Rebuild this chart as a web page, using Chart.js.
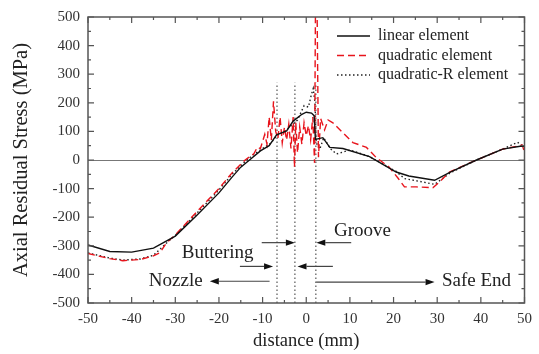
<!DOCTYPE html>
<html>
<head>
<meta charset="utf-8">
<script src="https://cdn.jsdelivr.net/npm/chart.js@4.4.1/dist/chart.umd.min.js"></script>
<style>
  html, body { margin: 0; padding: 0; background: #fff; }
</style>
</head>
<body>
<canvas id="stressChart" width="539" height="354"></canvas>
<script>
// values (distance in mm, stress in MPa)
const linearX = [-50, -45, -40, -35, -30, -25, -20, -17, -15, -13, -10.5, -8.5, -6.8, -4.5, -3, -1, 0, 1.2, 1.8, 2.1, 3.8, 5.4, 8.4, 14.5, 20.6, 23.5, 29.4, 33, 39, 45, 49, 50];
const linearY = [-297, -320, -322, -308, -266, -192, -115, -60, -25, 0, 32, 50, 88, 102, 136, 160, 167, 164, 155, 72, 78, 44, 40, 12, -42, -56, -71, -42, 0, 38, 48, 48];

const quadX = [-50, -47, -45, -42, -38, -35, -33.5, -32, -30, -25, -20, -17, -15, -14, -12, -11.2, -10.5, -9.5, -9, -8.5, -8, -7.5, -7, -6.5, -6, -5.5, -5, -4.5, -4, -3.5, -3, -2.7, -2.4, -2, -1.5, -1, -0.5, 0, 0.5, 1, 1.5, 1.9, 2.1, 2.5, 2.8, 3.3, 4.2, 5, 6.1, 8.4, 10.7, 13.8, 16, 19, 21, 22.5, 25.2, 29, 30.5, 32.8, 39, 45, 49.5, 50];
const quadY = [-327, -338, -345, -352, -348, -335, -324, -289, -262, -180, -100, -45, -15, 0, 22, 45, 40, 90, 55, 150, 70, 205, 100, 75, 150, 60, 115, 70, 125, 40, 150, -25, 130, 25, 115, 55, 130, 85, 120, 70, 150, -10, 500, 500, 10, 145, 105, 140, 130, 95, 61, 44, 9, -25, -63, -94, -94, -97, -77, -42, 0, 38, 52, 27];

const quadRX = [-50, -45, -42, -38, -35, -32, -30, -25, -20, -17, -14, -12, -10, -8, -6.8, -4.5, -2, -0.5, 0.5, 1.2, 1.6, 2, 2.3, 3.1, 4, 5.5, 6.9, 10, 14.5, 20.6, 22.5, 25, 29.4, 33, 39, 45, 48.4, 50];
const quadRY = [-325, -343, -350, -346, -333, -290, -264, -185, -105, -50, -5, 20, 40, 60, 85, 105, 140, 190, 185, 230, 250, 200, 60, 38, 78, 40, 21, 35, 12, -40, -65, -72, -85, -45, 0, 38, 62, 45];

const seriesNames = ['linear element', 'quadratic element', 'quadratic-R element'];

// zone boundaries and region labels
const boundaryX = [-6.7, -2.6, 2.2];
const boundaryTop = 270;

const regionLabels = ['Groove', 'Buttering', 'Nozzle', 'Safe End'];
const regionLabelX = [12.9, -20.3, -29.9, 39];
const regionLabelY = [-249, -325, -424, -424];

// arrows: [fromX, fromY, toX, toY]
const arrows = [
  [-10.2, -289, -2.6, -289],
  [10.3, -289, 2.3, -289],
  [-15.2, -372, -7.6, -372],
  [6.1, -372, -2.0, -372],
  [-8.4, -424, -22.1, -424],
  [2.3, -427, 29.4, -427]
];

const xTicks = { min: -50, max: 50, step: 10 };
const yTicks = { min: -500, max: 500, step: 100 };

const toPoints = (xs, ys) => xs.map((x, i) => ({ x: x, y: ys[i] }));

const FONT = '"Liberation Serif", "Times New Roman", serif';
const AXIS_COLOR = '#555';

const seriesStyles = [
  { borderColor: '#111', borderWidth: 1.4, borderDash: [] },
  { borderColor: '#e8141c', borderWidth: 1.4, borderDash: [7, 4] },
  { borderColor: '#222', borderWidth: 1.4, borderDash: [1.5, 2.5] }
];

const datasets = [
  toPoints(linearX, linearY),
  toPoints(quadX, quadY),
  toPoints(quadRX, quadRY)
].map((data, i) => ({
  label: seriesNames[i],
  data: data,
  ...seriesStyles[i],
  pointRadius: 0,
  tension: 0,
  fill: false
}));

boundaryX.forEach((bx) => {
  datasets.push({
    label: '',
    data: [{ x: bx, y: yTicks.min }, { x: bx, y: boundaryTop }],
    borderColor: '#555',
    borderWidth: 1.2,
    borderDash: [1.5, 2.5],
    pointRadius: 0
  });
});

const zeroLine = {
  id: 'zeroLine',
  beforeDatasetsDraw(chart) {
    const { ctx, chartArea: a, scales: { y } } = chart;
    const py = Math.round(y.getPixelForValue(0)) + 0.5;
    ctx.save();
    ctx.strokeStyle = '#777';
    ctx.lineWidth = 1;
    ctx.beginPath();
    ctx.moveTo(a.left, py);
    ctx.lineTo(a.right, py);
    ctx.stroke();
    ctx.restore();
  }
};

const frameTicks = {
  id: 'frameTicks',
  afterDatasetsDraw(chart) {
    const { ctx, chartArea: a, scales: { x, y } } = chart;
    ctx.save();
    ctx.strokeStyle = AXIS_COLOR;
    ctx.lineWidth = 1.5;
    ctx.strokeRect(a.left, a.top, a.right - a.left, a.bottom - a.top);
    ctx.lineWidth = 1.2;
    ctx.beginPath();
    for (let v = xTicks.min; v <= xTicks.max; v += xTicks.step / 2) {
      const px = x.getPixelForValue(v);
      const len = v % xTicks.step === 0 ? 6 : 3;
      ctx.moveTo(px, a.bottom);
      ctx.lineTo(px, a.bottom - len);
      ctx.moveTo(px, a.top);
      ctx.lineTo(px, a.top + len);
    }
    for (let v = yTicks.min; v <= yTicks.max; v += yTicks.step / 2) {
      const py = y.getPixelForValue(v);
      const len = v % yTicks.step === 0 ? 6 : 3;
      ctx.moveTo(a.left, py);
      ctx.lineTo(a.left + len, py);
      ctx.moveTo(a.right, py);
      ctx.lineTo(a.right - len, py);
    }
    ctx.stroke();
    ctx.restore();
  }
};

const drawArrow = (ctx, x1, y1, x2, y2) => {
  const ang = Math.atan2(y2 - y1, x2 - x1);
  const head = 9;
  const half = 3.2;
  ctx.beginPath();
  ctx.moveTo(x1, y1);
  ctx.lineTo(x2 - head * Math.cos(ang), y2 - head * Math.sin(ang));
  ctx.stroke();
  ctx.beginPath();
  ctx.moveTo(x2, y2);
  ctx.lineTo(x2 - head * Math.cos(ang) - half * Math.sin(ang), y2 - head * Math.sin(ang) + half * Math.cos(ang));
  ctx.lineTo(x2 - head * Math.cos(ang) + half * Math.sin(ang), y2 - head * Math.sin(ang) - half * Math.cos(ang));
  ctx.closePath();
  ctx.fill();
};

const regionNotes = {
  id: 'regionNotes',
  afterDatasetsDraw(chart) {
    const { ctx, scales: { x, y } } = chart;
    ctx.save();
    ctx.strokeStyle = '#444';
    ctx.fillStyle = '#111';
    ctx.lineWidth = 1.2;
    arrows.forEach(([fx, fy, tx, ty]) => {
      drawArrow(ctx, x.getPixelForValue(fx), y.getPixelForValue(fy), x.getPixelForValue(tx), y.getPixelForValue(ty));
    });
    ctx.fillStyle = '#222';
    ctx.font = '19px ' + FONT;
    ctx.textAlign = 'center';
    ctx.textBaseline = 'middle';
    regionLabels.forEach((text, i) => {
      ctx.fillText(text, x.getPixelForValue(regionLabelX[i]), y.getPixelForValue(regionLabelY[i]));
    });
    ctx.restore();
  }
};

const insideLegend = {
  id: 'insideLegend',
  afterDraw(chart) {
    const { ctx, chartArea: a } = chart;
    const lineStart = a.left + 249;
    const lineEnd = a.left + 282;
    const textX = a.left + 290;
    ctx.save();
    ctx.font = '16px ' + FONT;
    ctx.textBaseline = 'middle';
    ctx.fillStyle = '#222';
    seriesNames.forEach((name, i) => {
      const ly = a.top + 19 + i * 19.5;
      const st = seriesStyles[i];
      ctx.strokeStyle = st.borderColor;
      ctx.lineWidth = st.borderWidth;
      ctx.setLineDash(st.borderDash);
      ctx.beginPath();
      ctx.moveTo(lineStart, ly);
      ctx.lineTo(lineEnd, ly);
      ctx.stroke();
      ctx.setLineDash([]);
      ctx.fillText(name, textX, ly);
    });
    ctx.restore();
  }
};

new Chart(document.getElementById('stressChart'), {
  type: 'line',
  data: { datasets: datasets },
  options: {
    responsive: false,
    animation: false,
    layout: { padding: { top: 13, right: 14, left: 0, bottom: 0 } },
    plugins: {
      legend: { display: false },
      tooltip: { enabled: false }
    },
    scales: {
      x: {
        type: 'linear',
        min: xTicks.min,
        max: xTicks.max,
        grid: { display: false, drawTicks: false },
        border: { display: false },
        ticks: {
          stepSize: xTicks.step,
          color: '#333',
          padding: 7,
          font: { family: FONT, size: 15 }
        },
        title: {
          display: true,
          text: 'distance (mm)',
          color: '#222',
          padding: { top: 2, bottom: 2 },
          font: { family: FONT, size: 18.5 }
        },
        afterFit: (scale) => { scale.height = 51; }
      },
      y: {
        type: 'linear',
        min: yTicks.min,
        max: yTicks.max,
        grid: { display: false, drawTicks: false },
        border: { display: false },
        ticks: {
          stepSize: yTicks.step,
          color: '#333',
          padding: 8,
          font: { family: FONT, size: 15 }
        },
        title: {
          display: true,
          text: 'Axial Residual Stress (MPa)',
          color: '#222',
          padding: { top: 9, bottom: 0 },
          font: { family: FONT, size: 20.5 }
        },
        afterFit: (scale) => { scale.width = 88; }
      }
    }
  },
  plugins: [zeroLine, frameTicks, regionNotes, insideLegend]
});
</script>
</body>
</html>
